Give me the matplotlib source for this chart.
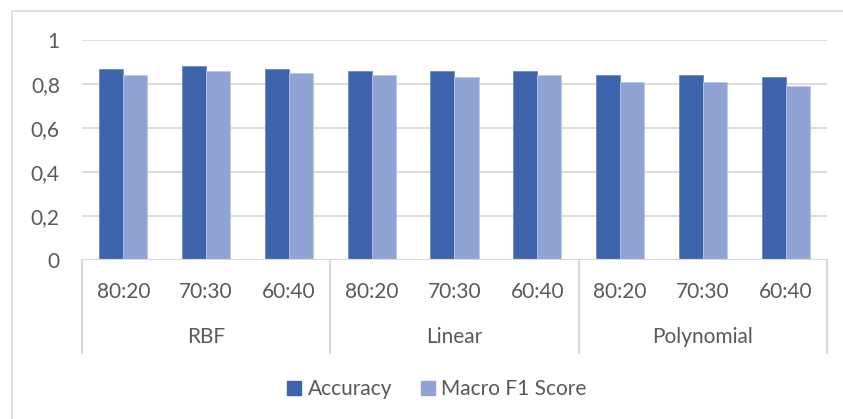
import matplotlib
matplotlib.use("Agg")
import matplotlib.pyplot as plt
from matplotlib.patches import Patch, Rectangle
from matplotlib.transforms import blended_transform_factory
import numpy as np

plt.rcParams['font.family'] = ['Lato', 'DejaVu Sans']

kernels = ["RBF", "Linear", "Polynomial"]
splits = ["80:20", "70:30", "60:40"]
accuracy = [0.87, 0.88, 0.87, 0.86, 0.86, 0.86, 0.84, 0.84, 0.83]
macro_f1 = [0.84, 0.86, 0.85, 0.84, 0.83, 0.84, 0.81, 0.81, 0.79]
y_ticks = [0, 0.2, 0.4, 0.6, 0.8, 1.0]
y_tick_labels = ["0", "0,2", "0,4", "0,6", "0,8", "1"]

ACC_COLOR = "#3D64AA"
F1_COLOR = "#8FA3D4"
TEXT = "#595959"
GRID = "#D9D9D9"
FS = 15

W, H = 843, 419
fig = plt.figure(figsize=(W / 100, H / 100), dpi=100)

# outer chart frame
fig.patches.append(Rectangle((12 / W, -0.05), 1.2, (H - 11) / H + 0.05,
                             transform=fig.transFigure, fill=False,
                             edgecolor=GRID, linewidth=1.2))

x0, x1, ytop, ybot = 82, 827, 40, 259.5
ax = fig.add_axes([x0 / W, (H - ybot) / H, (x1 - x0) / W, (ybot - ytop) / H])

n = len(accuracy)
x = np.arange(n)
bw = 0.29
ax.bar(x - bw / 2, accuracy, bw, color=ACC_COLOR, edgecolor="#6A89C4",
       linewidth=0.6, zorder=3)
ax.bar(x + bw / 2, macro_f1, bw, color=F1_COLOR, edgecolor="#B9C7E6",
       linewidth=0.6, zorder=3)

ax.set_xlim(-0.5, n - 0.5)
ax.set_ylim(0, 1)
ax.set_yticks(y_ticks)
ax.set_yticklabels(y_tick_labels)
ax.tick_params(axis='y', length=0, pad=16, labelsize=FS, labelcolor=TEXT)
ax.set_xticks([])
for s in ax.spines.values():
    s.set_visible(False)
for t in y_ticks[1:]:
    ax.axhline(t, color=GRID, linewidth=1.3, zorder=1)
ax.axhline(0, color=GRID, linewidth=1.6, zorder=4)

# category axis: split labels, kernel labels and group dividers
trans = blended_transform_factory(ax.transData, fig.transFigure)
y_split = 1 - 292 / H
y_kernel = 1 - 337 / H
y_line_end = 1 - 353 / H
y_axis = 1 - ybot / H
for i in range(n):
    ax.text(i, y_split, splits[i % 3], transform=trans, ha='center',
            va='center', fontsize=FS, color=TEXT)
for g, name in enumerate(kernels):
    ax.text(3 * g + 1, y_kernel, name, transform=trans, ha='center',
            va='center', fontsize=FS, color=TEXT)
for b in [-0.5, 2.5, 5.5, 8.5]:
    ax.plot([b, b], [y_axis, y_line_end], transform=trans, color=GRID,
            linewidth=1.6, clip_on=False)

handles = [Patch(facecolor=ACC_COLOR, edgecolor=ACC_COLOR),
           Patch(facecolor=F1_COLOR, edgecolor=F1_COLOR)]
fig.legend(handles, ["Accuracy", "Macro F1 Score"], loc='center',
           bbox_to_anchor=(437 / W, 1 - 389 / H), ncol=2, frameon=False,
           fontsize=FS, labelcolor=TEXT, handlelength=0.67,
           handleheight=0.67, handletextpad=0.3, columnspacing=1.4,
           borderpad=0, borderaxespad=0)

fig.savefig("out.png", dpi=100)
